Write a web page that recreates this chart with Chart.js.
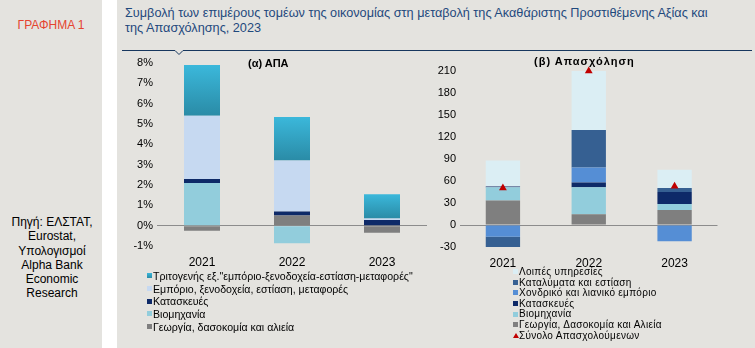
<!DOCTYPE html>
<html><head><meta charset="utf-8">
<script src="https://cdn.jsdelivr.net/npm/chart.js@4"></script>
<style>
html,body{margin:0;padding:0;background:#fff;}
body{width:755px;height:348px;position:relative;overflow:hidden;font-family:"Liberation Sans",Arial,sans-serif;}
#side{position:absolute;left:0;top:0;width:102px;height:348px;background:#e4e3df;}
#main{position:absolute;left:117px;top:0;width:638px;height:348px;background:#e4e3df;}
.abs{position:absolute;white-space:nowrap;}
canvas{position:absolute;}
.leg{position:absolute;color:#000;white-space:nowrap;}
.leg div{position:relative;padding-left:6px;}
.leg i{position:absolute;left:0;width:5px;height:5px;}
</style></head>
<body>
<div id="side"></div>
<div id="main"></div>
<div class="abs" style="left:0;width:102px;top:18px;text-align:center;color:#e5432f;font-size:12px;">ΓΡΑΦΗΜΑ 1</div>
<div class="abs" style="left:0;width:104px;top:215px;text-align:center;color:#000;font-size:12px;line-height:14.3px;white-space:normal;">Πηγή: ΕΛΣΤΑΤ,<br>Eurostat,<br>Υπολογισμοί<br>Alpha Bank<br>Economic<br>Research</div>
<div class="abs" style="left:125px;top:6px;color:#1f497d;font-size:12.7px;line-height:15px;">Συμβολή των επιμέρους τομέων της οικονομίας στη μεταβολή της Ακαθάριστης Προστιθέμενης Αξίας και<br>της Απασχόλησης, 2023</div>
<svg class="abs" style="left:0;top:0" width="755" height="60"><polyline points="122,50.5 175,50.5 179,54.5 183,50.5 752,50.5" fill="none" stroke="#17375e" stroke-width="1"/></svg>
<canvas id="c1" width="310" height="222" style="left:120px;top:50px"></canvas>
<canvas id="c2" width="302" height="222" style="left:420px;top:50px"></canvas>
<div class="abs" style="left:248px;top:57px;font-weight:bold;font-size:11px;">(α) ΑΠΑ</div>
<div class="abs" style="left:534px;top:55px;font-weight:bold;font-size:11px;letter-spacing:1px;">(β) Απασχόληση</div>
<div class="leg" id="leg1" style="left:147px;top:270px;line-height:12.7px;font-size:10.6px;"></div>
<div class="leg" id="leg2" style="left:513px;top:267px;line-height:10.6px;font-size:10px;letter-spacing:0.3px;"></div>
<script>
const years = ['2021','2022','2023'];
// (α) ΑΠΑ, % contributions
const gvaAgri = [-0.25, 0.5, -0.35];
const gvaIndustry = [2.1, -0.87, 0];
const gvaConstruction = [0.2, 0.2, 0.28];
const gvaTrade = [3.1, 2.5, 0.07];
const gvaTertiary = [2.5, 2.15, 1.2];
const gvaTicks = [8,7,6,5,4,3,2,1,0,-1];
// (β) Απασχόληση, thousands
const empAgri = [33.5, 14.5, 20.5];
const empIndustry = [18, 37, 8];
const empConstruction = [1, 6.5, 16.5];
const empTrade = [-16, 20.5, -22];
const empAccommodation = [-14, 51, 5.5];
const empOther = [35.5, 80.5, 25];
const empTotal = [50.5, 210, 53];
const empTicks = [210,180,150,120,90,60,30,0,-30];

const FONT = '"Liberation Sans", Arial, sans-serif';
const C = {agri:'#7f7f7f', ind:'#92cddc', cons:'#0e2a68', trade:'#c6d9f1', terT:'#3bb8db', terB:'#2a8ba6',
  other:'#dbeef4', acc:'#366092', whole:'#558ed5', total:'#c00000'};

const tertiaryBase = years.map((_, i) => [gvaAgri, gvaIndustry, gvaConstruction, gvaTrade].reduce((s, a) => s + Math.max(0, a[i]), 0));
function tertiaryColor(ctx){
  const ch = ctx.chart;
  if (!ch.chartArea || ctx.type !== 'data') return C.terT;
  const y = ch.scales.y, i = ctx.dataIndex;
  const top = y.getPixelForValue(tertiaryBase[i] + gvaTertiary[i]);
  const bot = y.getPixelForValue(tertiaryBase[i]);
  const g = ch.ctx.createLinearGradient(0, top, 0, bot);
  g.addColorStop(0, C.terT); g.addColorStop(1, C.terB);
  return g;
}

function yAxis(min, max, ticks, fmt, width){
  return {stacked:true, min, max,
    afterBuildTicks: s => { s.ticks = ticks.map(v => ({value:v})); },
    afterFit: s => { s.width = width; },
    border:{display:false},
    grid:{drawTicks:false, color: c => (c.tick && c.tick.value === 0) ? '#8c8c8c' : 'rgba(0,0,0,0)', lineWidth:1},
    ticks:{color:'#000', font:{family:FONT, size:11}, padding:4, callback: v => fmt(v)}};
}
function xAxis(h){
  return {stacked:true, afterFit: s => { s.height = h; },
    grid:{display:false, drawTicks:false}, border:{display:false},
    ticks:{color:'#000', font:{family:FONT, size:12}, padding:9.5}};
}
const common = {responsive:false, devicePixelRatio:1, animation:false,
  plugins:{legend:{display:false}, tooltip:{enabled:false}}};
const bp = {barPercentage:0.8, categoryPercentage:0.5, borderWidth:0, order:1};

new Chart(document.getElementById('c1'), {
  type:'bar',
  data:{labels:years, datasets:[
    {label:'Γεωργία, δασοκομία και αλιεία', data:gvaAgri, backgroundColor:C.agri, ...bp},
    {label:'Βιομηχανία', data:gvaIndustry, backgroundColor:C.ind, ...bp},
    {label:'Κατασκευές', data:gvaConstruction, backgroundColor:C.cons, ...bp},
    {label:'Εμπόριο, ξενοδοχεία, εστίαση, μεταφορές', data:gvaTrade, backgroundColor:C.trade, ...bp},
    {label:'Τριτογενής εξ."εμπόριο-ξενοδοχεία-εστίαση-μεταφορές"', data:gvaTertiary, backgroundColor:tertiaryColor, ...bp}
  ]},
  options:{...common, layout:{padding:{top:13, right:3, left:0, bottom:0}},
    scales:{x:xAxis(26), y:yAxis(-1, 8, gvaTicks, v => v + '%', 37)}}
});

new Chart(document.getElementById('c2'), {
  type:'bar',
  data:{labels:years, datasets:[
    {label:'Γεωργία, Δασοκομία και Αλιεία', data:empAgri, backgroundColor:C.agri, stack:'s', ...bp},
    {label:'Βιομηχανία', data:empIndustry, backgroundColor:C.ind, stack:'s', ...bp},
    {label:'Κατασκευές', data:empConstruction, backgroundColor:C.cons, stack:'s', ...bp},
    {label:'Χονδρικό και λιανικό εμπόριο', data:empTrade, backgroundColor:C.whole, stack:'s', ...bp},
    {label:'Καταλύματα και εστίαση', data:empAccommodation, backgroundColor:C.acc, stack:'s', ...bp},
    {label:'Λοιπές υπηρεσίες', data:empOther, backgroundColor:C.other, stack:'s', ...bp},
    {type:'line', label:'Σύνολο Απασχολούμενων', data:empTotal, stack:'t', order:0, showLine:false, clip:false,
     pointStyle:'triangle', pointRadius:4.5, pointBackgroundColor:C.total, pointBorderColor:C.total, pointBorderWidth:0}
  ]},
  options:{...common, layout:{padding:{top:21, right:3, left:0, bottom:0}},
    scales:{x:xAxis(25), y:yAxis(-30, 210, empTicks, v => String(v), 40)}}
});

function legend(el, items){
  document.getElementById(el).innerHTML = items.map(([t, c]) =>
    `<div><i style="background:${c};"></i>${t}</div>`).join('');
}
legend('leg1', [
  ['Τριτογενής εξ."εμπόριο-ξενοδοχεία-εστίαση-μεταφορές"', `linear-gradient(${C.terT},${C.terB})`],
  ['Εμπόριο, ξενοδοχεία, εστίαση, μεταφορές', C.trade],
  ['Κατασκευές', C.cons],
  ['Βιομηχανία', C.ind],
  ['Γεωργία, δασοκομία και αλιεία', C.agri]
]);
legend('leg2', [
  ['Λοιπές υπηρεσίες', C.other],
  ['Καταλύματα και εστίαση', C.acc],
  ['Χονδρικό και λιανικό εμπόριο', C.whole],
  ['Κατασκευές', C.cons],
  ['Βιομηχανία', C.ind],
  ['Γεωργία, Δασοκομία και Αλιεία', C.agri],
  ['Σύνολο Απασχολούμενων', 'none']
]);
document.querySelectorAll('.leg i').forEach(i => { i.style.top = '50%'; i.style.marginTop = '-3px'; });
const last = document.querySelector('#leg2 div:last-child i');
last.style.cssText += 'width:0;height:0;border-left:3px solid transparent;border-right:3px solid transparent;border-bottom:5px solid ' + C.total + ';background:none;';
</script>
</body></html>
